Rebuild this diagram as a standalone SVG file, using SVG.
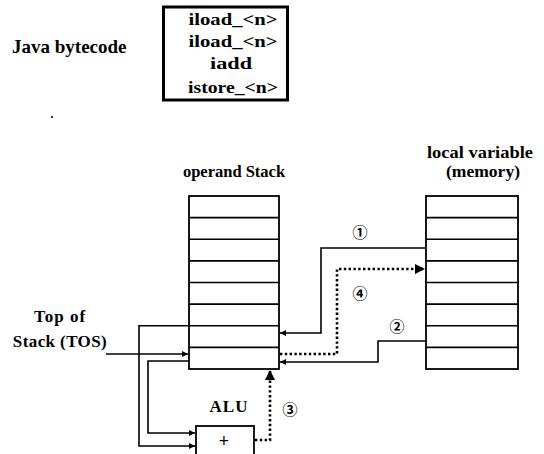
<svg xmlns="http://www.w3.org/2000/svg" width="544" height="454" viewBox="0 0 544 454">
<style>
.box{fill:#fff;stroke:#000;stroke-width:1.8}
.row{stroke:#000;stroke-width:1.6}
.ln{fill:none;stroke:#000;stroke-width:1.6}
.dot{fill:none;stroke:#000;stroke-width:2.6;stroke-dasharray:2.4 2.4}
</style>
<defs>
<marker id="ah" viewBox="0 0 10 10" refX="10" refY="5" markerWidth="6" markerHeight="6" markerUnits="userSpaceOnUse" orient="auto">
<path d="M0,0 L10,5 L0,10 z" fill="#000"/>
</marker>
<marker id="ahd" viewBox="0 0 10 10" refX="10" refY="5" markerWidth="4" markerHeight="4" markerUnits="strokeWidth" orient="auto">
<path d="M0,0 L10,5 L0,10 z" fill="#000"/>
</marker>
</defs>

<g id="bytecode-label">
<text font-family="'Liberation Serif'" font-weight="bold" x="12" y="53" font-size="19">Java bytecode</text>
</g>
<g id="bytecode">
<rect x="163.5" y="7" width="124" height="93" fill="#fff" stroke="#000" stroke-width="3"/>
<text font-family="'Liberation Serif'" font-weight="bold" x="233" y="25" font-size="17" text-anchor="middle" textLength="89" lengthAdjust="spacingAndGlyphs">iload_&lt;n&gt;</text>
<text font-family="'Liberation Serif'" font-weight="bold" x="233" y="47" font-size="17" text-anchor="middle" textLength="89" lengthAdjust="spacingAndGlyphs">iload_&lt;n&gt;</text>
<text font-family="'Liberation Serif'" font-weight="bold" x="231" y="69" font-size="17" text-anchor="middle" textLength="42" lengthAdjust="spacingAndGlyphs">iadd</text>
<text font-family="'Liberation Serif'" font-weight="bold" x="233" y="93" font-size="17" text-anchor="middle" textLength="90" lengthAdjust="spacingAndGlyphs">istore_&lt;n&gt;</text>
</g>
<circle cx="52" cy="117" r="1.1" fill="#000"/>

<g id="operand-stack">
<text font-family="'Liberation Serif'" font-weight="bold" x="234" y="177" font-size="16.5" text-anchor="middle">operand Stack</text>
<rect class="box" x="189" y="196" width="90" height="173"/>
<path class="row" d="M189,217.6H279M189,239.3H279M189,260.9H279M189,282.5H279M189,304.1H279M189,325.8H279M189,347.4H279"/>
</g>

<g id="local-variable">
<text font-family="'Liberation Serif'" font-weight="bold" x="480" y="158" font-size="17" text-anchor="middle" textLength="106" lengthAdjust="spacingAndGlyphs">local variable</text>
<text font-family="'Liberation Serif'" font-weight="bold" x="483" y="177" font-size="17" text-anchor="middle" textLength="74" lengthAdjust="spacingAndGlyphs">(memory)</text>
<rect class="box" x="426" y="196" width="92" height="173"/>
<path class="row" d="M426,217.6H518M426,239.3H518M426,260.9H518M426,282.5H518M426,304.1H518M426,325.8H518M426,347.4H518"/>
</g>

<g id="tos-label">
<text font-family="'Liberation Serif'" font-weight="bold" x="60" y="322" font-size="17" letter-spacing="1" text-anchor="middle">Top of</text>
<text font-family="'Liberation Serif'" font-weight="bold" x="60" y="347" font-size="17" letter-spacing="0.4" text-anchor="middle">Stack (TOS)</text>
</g>

<g id="alu">
<text font-family="'Liberation Serif'" font-weight="bold" x="229" y="412" font-size="17" letter-spacing="1" text-anchor="middle">ALU</text>
<rect class="box" x="196" y="426" width="58" height="40"/>
<text font-family="'Liberation Serif'" font-weight="bold" x="224" y="447" font-size="18" text-anchor="middle">+</text>
</g>

<g id="connectors">
<path class="ln" d="M426,248H321V333H280" marker-end="url(#ah)"/>
<path class="ln" d="M426,341H378V362H280" marker-end="url(#ah)"/>
<path class="dot" d="M280,354H337V269H425" marker-end="url(#ahd)"/>
<path class="dot" d="M255,440H270V370" marker-end="url(#ahd)"/>
<path class="ln" d="M189,325.8H139V446H195" marker-end="url(#ah)"/>
<path class="ln" d="M189,361H148V433H195" marker-end="url(#ah)"/>
<path class="ln" d="M106,354H188" marker-end="url(#ah)"/>
<text font-family="'Noto Sans CJK JP'" font-weight="bold" font-size="15" x="360" y="238" text-anchor="middle">①</text>
<text font-family="'Noto Sans CJK JP'" font-weight="bold" font-size="15" x="397" y="332" text-anchor="middle">②</text>
<text font-family="'Noto Sans CJK JP'" font-weight="bold" font-size="15" x="290" y="415" text-anchor="middle">③</text>
<text font-family="'Noto Sans CJK JP'" font-weight="bold" font-size="15" x="360" y="299" text-anchor="middle">④</text>
</g>
</svg>
